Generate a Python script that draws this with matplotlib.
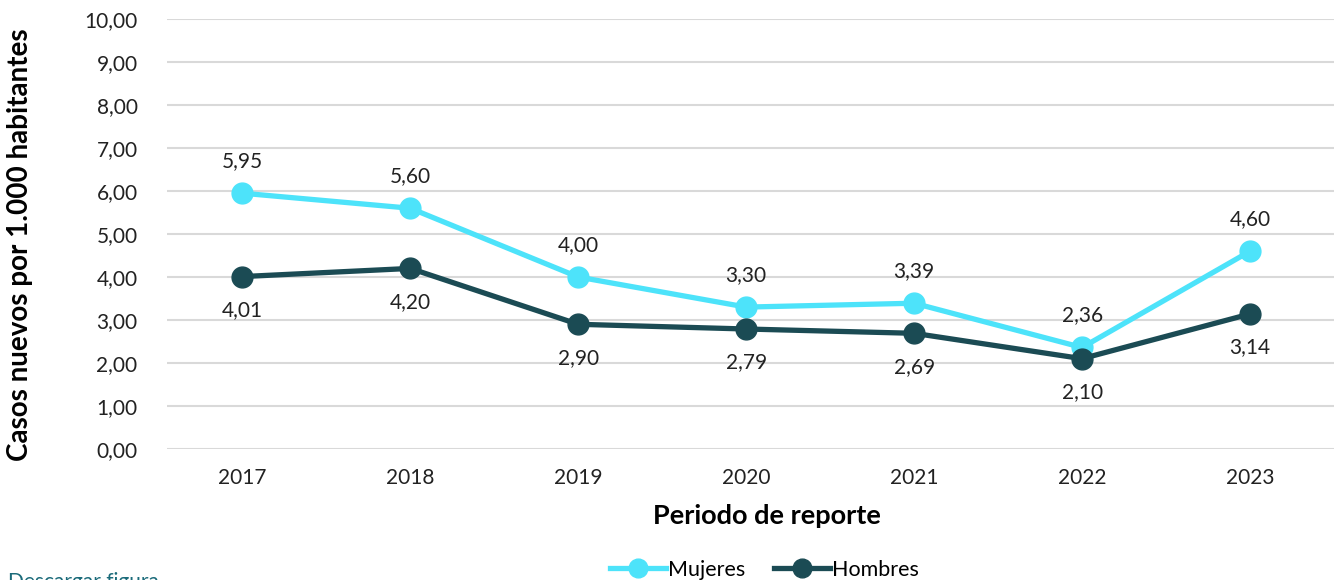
import matplotlib
matplotlib.use("Agg")
import matplotlib.pyplot as plt
from matplotlib.ticker import FuncFormatter

years = ["2017", "2018", "2019", "2020", "2021", "2022", "2023"]
mujeres = [5.95, 5.60, 4.00, 3.30, 3.39, 2.36, 4.60]
hombres = [4.01, 4.20, 2.90, 2.79, 2.69, 2.10, 3.14]
yticks = [0, 1, 2, 3, 4, 5, 6, 7, 8, 9, 10]

c_m = "#4DE3FA"
c_h = "#1B4B54"
plt.rcParams['font.family'] = ['Lato', 'DejaVu Sans']

fig = plt.figure(figsize=(13.34, 5.80), dpi=100)
ax = fig.add_axes([0.125, 0.226, 0.875, 0.741])
x = list(range(len(years)))
ax.plot(x, mujeres, color=c_m, lw=3.8, marker='o', ms=15, label="Mujeres", zorder=3)
ax.plot(x, hombres, color=c_h, lw=3.8, marker='o', ms=15, label="Hombres", zorder=3)

def fmt(v):
    return f"{v:.2f}".replace(".", ",")

for i in x:
    ax.annotate(fmt(mujeres[i]), (i, mujeres[i]), xytext=(0, 23), textcoords='offset points',
                ha='center', va='center', fontsize=15, color='#222222')
    ax.annotate(fmt(hombres[i]), (i, hombres[i]), xytext=(0, -24), textcoords='offset points',
                ha='center', va='center', fontsize=15, color='#222222')

ax.set_xlim(-0.45, 6.5)
ax.set_ylim(0, 10)
ax.set_yticks(yticks)
ax.yaxis.set_major_formatter(FuncFormatter(lambda v, p: fmt(v)))
ax.set_xticks(x)
ax.set_xticklabels(years)
ax.tick_params(axis='both', length=0, labelsize=15, colors='#222222')
ax.tick_params(axis='y', pad=21)
ax.tick_params(axis='x', pad=14)
ax.grid(axis='y', color='#d9d9d9', lw=1.5)
ax.set_axisbelow(True)
for s in ax.spines.values():
    s.set_visible(False)

fig.text(767 / 1334, 1 - 516 / 580, "Periodo de reporte", fontsize=19.5, fontweight='bold',
         color='black', ha='center', va='center')
fig.text(20 / 1334, 1 - 245 / 580, "Casos nuevos por 1.000 habitantes", fontsize=20, fontweight='bold',
         color='black', ha='center', va='center', rotation=90)

leg = fig.legend(loc='center', bbox_to_anchor=(0.573, 0.018), ncol=2, frameon=False,
                 fontsize=15.5, handlelength=2.6, columnspacing=1.3, handletextpad=0.1,
                 markerscale=0.9)

fig.text(0.006, -0.004, "Descargar figura", fontsize=15, color="#1B6B7A", ha='left', va='center')

fig.savefig("out.png", dpi=100)
